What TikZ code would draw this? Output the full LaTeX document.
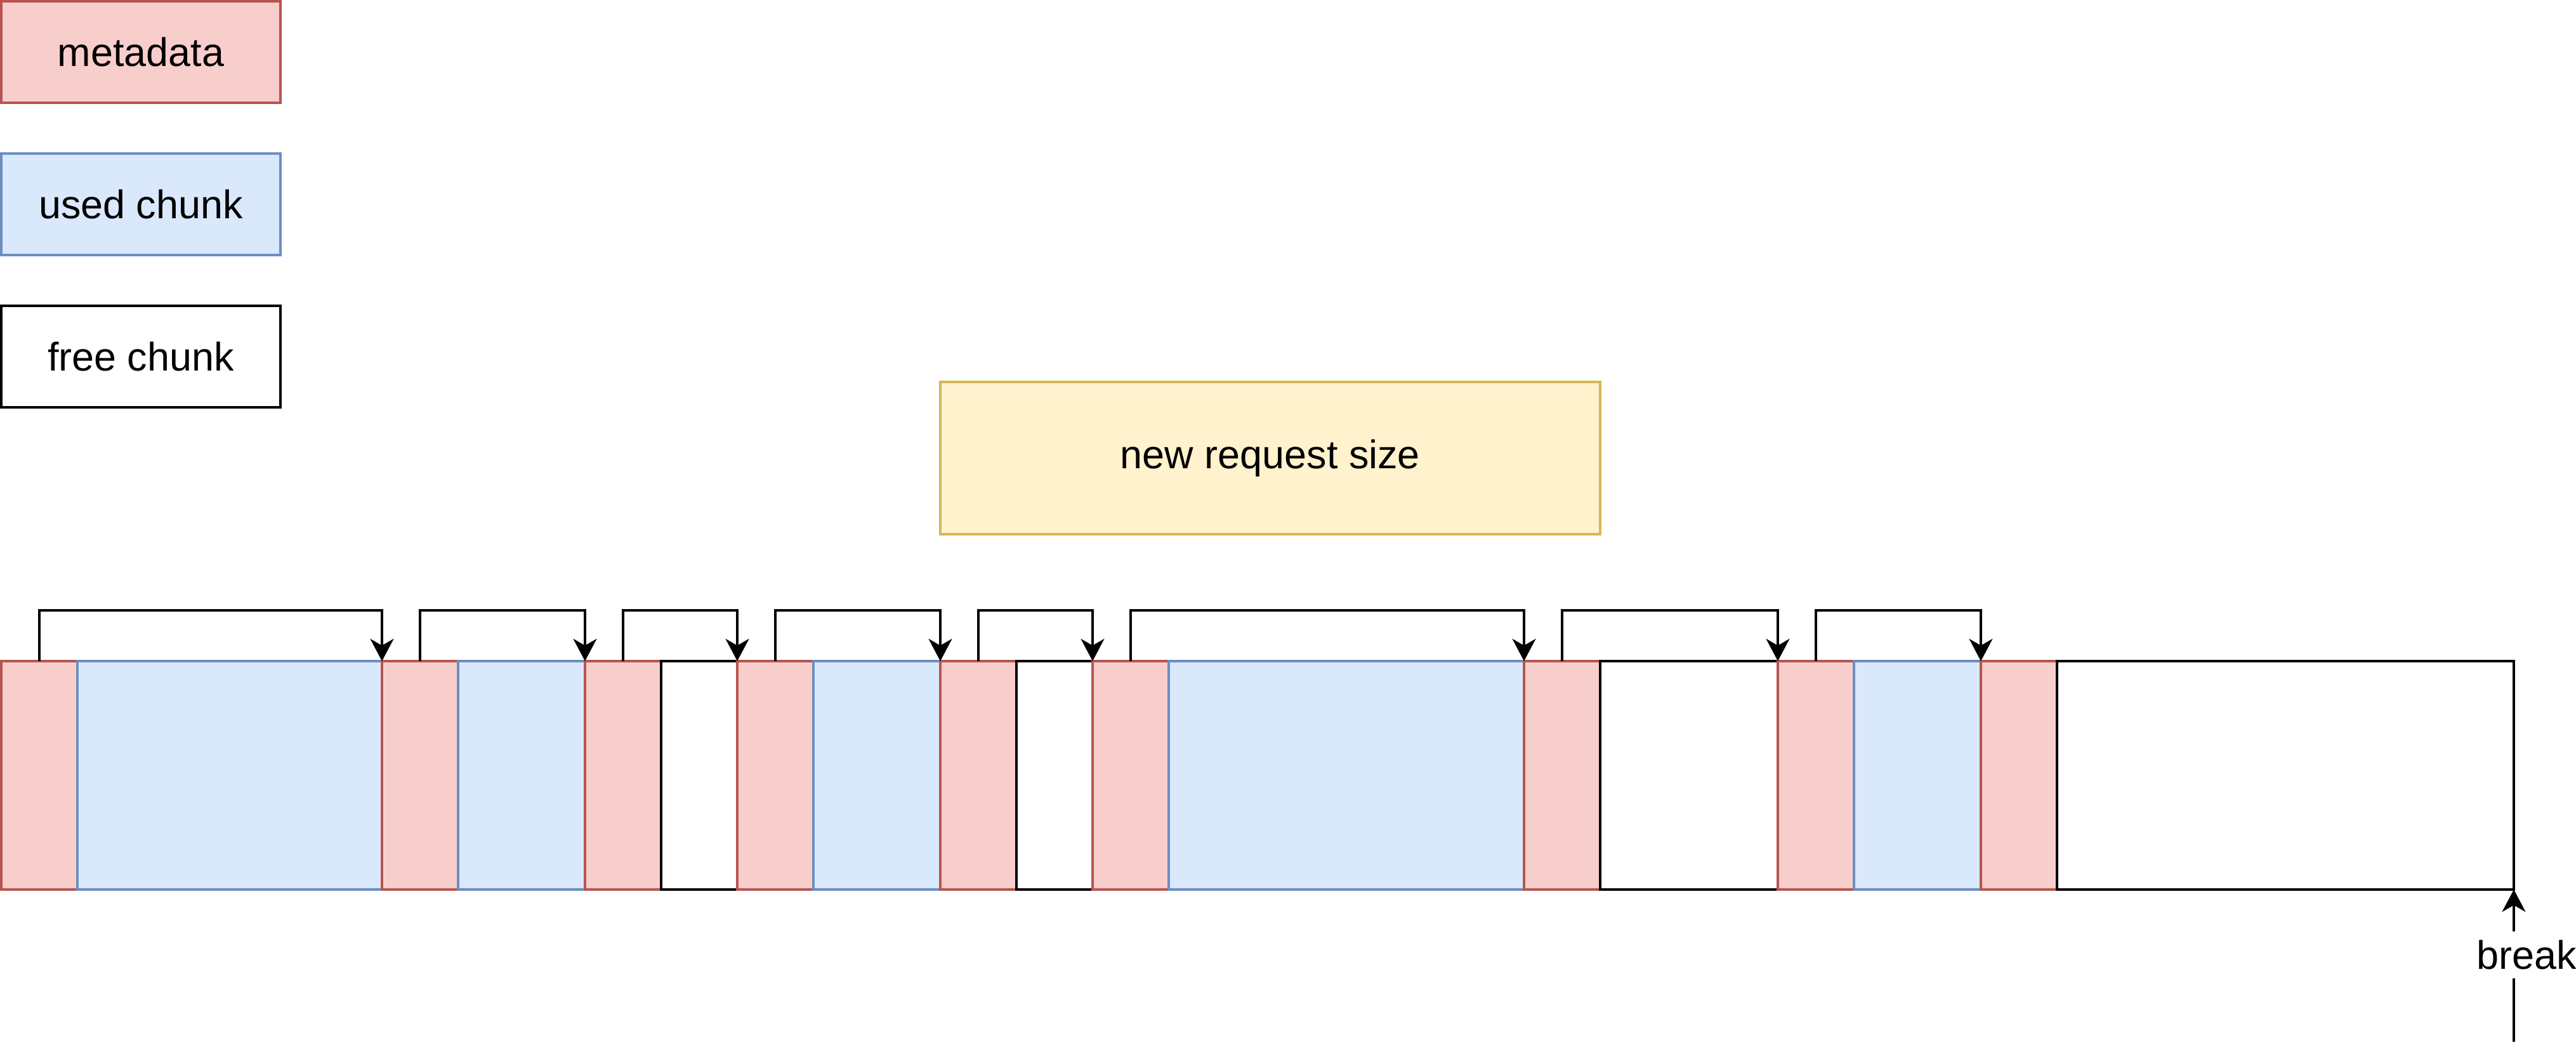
\documentclass[tikz,border=0pt]{standalone}
\usepackage{fontspec}
\setmainfont{Liberation Sans}
\usetikzlibrary{arrows.meta,positioning}
\definecolor{metafill}{HTML}{F8CECC}
\definecolor{metaline}{HTML}{B85450}
\definecolor{usedfill}{HTML}{DAE8FC}
\definecolor{usedline}{HTML}{6C8EBF}
\definecolor{reqfill}{HTML}{FFF2CC}
\definecolor{reqline}{HTML}{D6B656}
\tikzset{
    box/.style={rectangle,inner sep=0pt,outer sep=0pt,line width=1pt},
    legend box/.style={box,minimum width=4.4cm,minimum height=1.6cm},
    meta color/.style={draw=metaline,fill=metafill},
    used color/.style={draw=usedline,fill=usedfill},
    free color/.style={draw=black,fill=white},
    meta/.style={box,meta color,minimum width=1.2cm,minimum height=3.6cm},
    usedchunk/.style={box,used color,minimum width=#1,minimum height=3.6cm},
    freechunk/.style={box,free color,minimum width=#1,minimum height=3.6cm},
    arr/.style={-{Stealth[length=10pt,width=10.5pt,inset=3pt]},line width=1.1pt},
}
\tikzstyle{every node}=[font=\fontsize{17.9}{21.5}\selectfont]
\begin{document}
\begin{tikzpicture}

        \useasboundingbox (0,0) rectangle (40.6,-16.76);

        % legend
        \node[legend box, meta color, anchor=north west] (legmeta) at (0.02,-0.02) {metadata};
        \node[legend box, used color, below=0.8cm of legmeta] (legused) {used chunk};
        \node[legend box, free color, below=0.8cm of legused] (legfree) {free chunk};

        \node[box, draw=reqline, fill=reqfill, minimum width=10.4cm, minimum height=2.4cm,
              anchor=north west] (reqsize) at (14.82,-6.02) {new request size};

        % heap
        \node[meta, anchor=north west] (m1) at (0.02,-10.42) {};
        \node[usedchunk=4.8cm, right=0pt of m1] (u1) {};
        \node[meta, right=0pt of u1] (m2) {};
        \node[usedchunk=2cm, right=0pt of m2] (u2) {};
        \node[meta, right=0pt of u2] (m3) {};
        \node[freechunk=1.2cm, right=0pt of m3] (f1) {};
        \node[meta, right=0pt of f1] (m4) {};
        \node[usedchunk=2cm, right=0pt of m4] (u3) {};
        \node[meta, right=0pt of u3] (m5) {};
        \node[freechunk=1.2cm, right=0pt of m5] (f2) {};
        \node[meta, right=0pt of f2] (m6) {};
        \node[usedchunk=5.6cm, right=0pt of m6] (u4) {};
        \node[meta, right=0pt of u4] (m7) {};
        \node[freechunk=2.8cm, right=0pt of m7] (f3) {};
        \node[meta, right=0pt of f3] (m8) {};
        \node[usedchunk=2cm, right=0pt of m8] (u5) {};
        \node[meta, right=0pt of u5] (m9) {};
        \node[freechunk=7.2cm, right=0pt of m9] (f4) {};

        \foreach \from/\to in {m1/m2,m2/m3,m3/m4,m4/m5,m5/m6,m6/m7,m7/m8,m8/m9}{
            \draw[arr] (\from.north) -- ++(0,0.8) -| (\to.north west);
        }

        \coordinate (brk) at ([yshift=-2.4cm]f4.south east);
        \draw[arr] (brk) -- (f4.south east)
            node[pos=0.57, xshift=0.2cm, fill=white, inner xsep=0pt, inner ysep=4pt] (brklabel) {break};

    \end{tikzpicture}
\end{document}
